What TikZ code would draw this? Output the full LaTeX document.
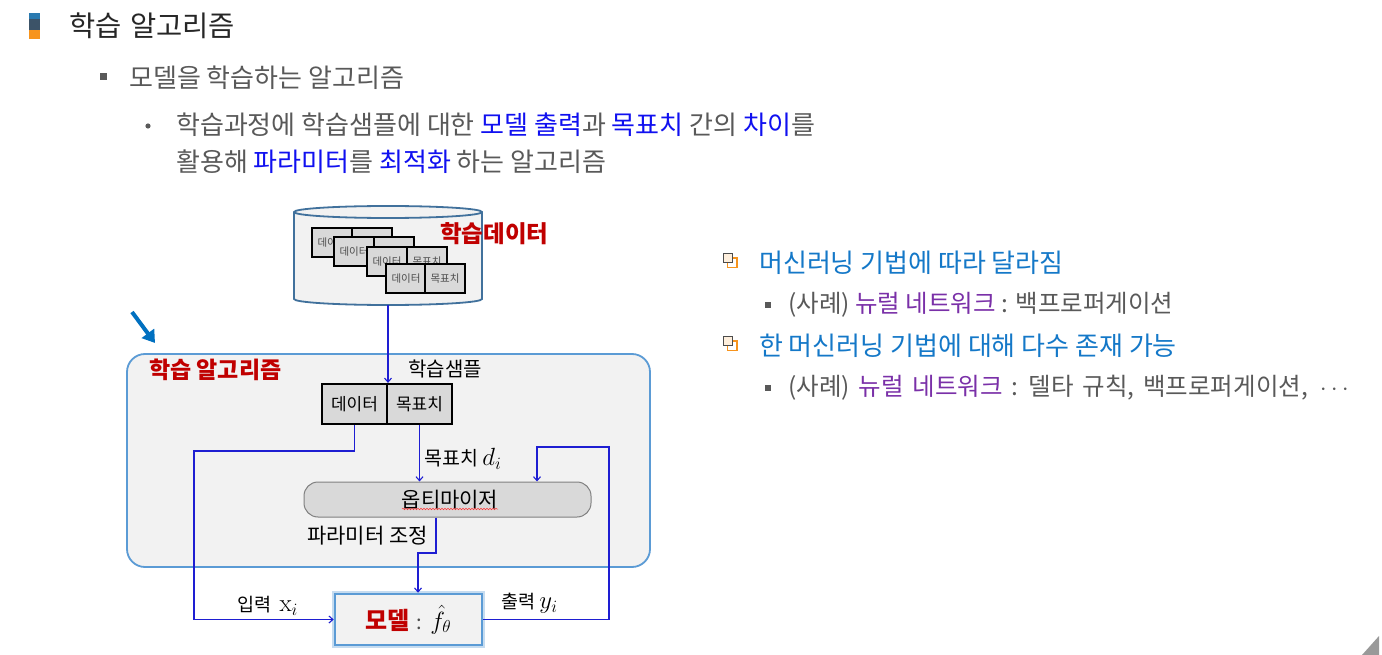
\documentclass[tikz,border=0pt]{standalone}
\usepackage{fontspec}
\setmainfont{Noto Sans CJK KR}
\newfontfamily\widesp[WordSpace=1.6]{Noto Sans CJK KR}
\newfontfamily\lmr{Latin Modern Roman}
\usetikzlibrary{arrows.meta,decorations.pathmorphing}
\definecolor{txtgray}{HTML}{595959}
\definecolor{hlblue}{HTML}{1010F0}
\definecolor{rpblue}{HTML}{1478C8}
\definecolor{purp}{HTML}{7A30A8}
\definecolor{redc}{HTML}{C00000}
\definecolor{conn}{RGB}{30,30,210}
\definecolor{boxb}{HTML}{5B9BD5}
\definecolor{boxf}{HTML}{F2F2F2}
\definecolor{cellf}{HTML}{D9D9D9}
\definecolor{cylb}{HTML}{41719C}
\definecolor{ptr}{HTML}{0070C0}
\definecolor{barA}{HTML}{2A7AB0}
\definecolor{barB}{HTML}{3C5368}
\definecolor{barC}{HTML}{F7941D}
\newcommand\fsz[1]{\fontsize{#1}{#1}\selectfont}
\begin{document}
\begin{tikzpicture}[x=1pt,y=-1pt,
  lbl/.style={anchor=west,inner sep=0pt},
  link/.style={draw=conn,line width=1.1pt,-{Straight Barb[length=4pt,width=7pt]}},
  card/.style={draw=black,line width=1.5pt,fill=cellf,minimum width=40pt,minimum height=29pt,inner sep=0pt,font=\fsz{10.5},text=black!70},
  cell/.style={draw=black,line width=2.2pt,fill=cellf,minimum width=65pt,minimum height=40pt,inner sep=0pt,font=\fsz{17}},
  icon/.style={line width=1.5pt}
]
\useasboundingbox (0,0) rectangle (1382,655);
\fill[white] (0,0) rectangle (1382,655);

% title bar
\fill[barA] (29,13) rectangle (40,19);
\fill[barB] (29,19) rectangle (40,30);
\fill[barC] (29,30) rectangle (40,39);
\node[lbl,font=\fsz{28.5},text=black!85] (title) at (69,26) {학습\hspace{2pt} 알고리즘};

% level 2
\fill[txtgray] (100,73) rectangle (107,80);
\node[lbl,font=\fsz{26},text=txtgray] (l2) at (129,78) {모델을 학습하는 알고리즘};

% level 3
\fill[txtgray] (148,126) circle[radius=2.6pt];
\node[lbl,font=\fsz{26},text=txtgray] (l3a) at (176,125) {학습과정에 학습샘플에 대한 \textcolor{hlblue}{모델 출력}과 \textcolor{hlblue}{목표치} 간의 \textcolor{hlblue}{차이}를};
\node[lbl,font=\fsz{26},text=txtgray] (l3b) at (176,162) {활용해 \textcolor{hlblue}{파라미터}를 \textcolor{hlblue}{최적화} 하는 알고리즘};

% cylinder
\path[draw=cylb,line width=1.8pt,fill=boxf] (294,212) -- (294,299)
  arc[start angle=180,end angle=360,x radius=94pt,y radius=6pt] -- (482,212)
  arc[start angle=0,end angle=180,x radius=94pt,y radius=6pt] -- cycle;
\draw[cylb,line width=1.8pt] (294,212) arc[start angle=180,end angle=360,x radius=94pt,y radius=6pt];
\coordinate (cylbot) at (388,305);

% stacked cards
\node[card] (c1a) at (332,242.5) {데이터};
\node[card] (c1b) at (372,242.5) {목표치};
\node[card] (c2a) at (354,251.5) {데이터};
\node[card] (c2b) at (394,251.5) {목표치};
\node[card] (c3a) at (387,261.5) {데이터};
\node[card] (c3b) at (427,261.5) {목표치};
\node[card] (c4a) at (406,278.5) {데이터};
\node[card] (c4b) at (445,278.5) {목표치};
\node[lbl,font=\fsz{23.5}\bfseries,text=redc] (dlabel) at (440,234) {학습데이터};

% pointer arrow
\draw[ptr,line width=4pt,-{Triangle[length=12pt,width=15pt]}] (132,312) -- (155,343);

% algorithm box
\node[draw=boxb,line width=1.8pt,fill=boxf,rounded corners=18pt,minimum width=523pt,minimum height=213pt,inner sep=0pt] (alg) at (388.5,460.5) {};
\node[lbl,font=\fsz{23}\bfseries,text=redc] (alglabel) at (149,370) {학습 알고리즘};
\node[lbl,font=\fsz{20}] (samplelbl) at (408,369) {학습샘플};

% sample
\node[cell] (sdata) at (354.5,404) {데이터};
\node[cell] (starget) at (419.5,404) {목표치};

% optimizer
\node[draw=black!50,line width=1pt,fill=cellf,rounded corners=14pt,minimum width=287pt,minimum height=35pt,inner sep=0pt,font=\fsz{21}] (opt) at (447.5,499.5) {\hspace{5pt}옵티마이저};
\draw[red!80,line width=0.5pt,decorate,decoration={snake,amplitude=0.8pt,segment length=3pt}] (402,509) -- (498,509);

% model
\node[draw=boxb!35,line width=6pt,minimum width=147pt,minimum height=51pt,inner sep=0pt] (glow) at (408.5,619.5) {};
\node[draw=boxb,line width=2.5pt,fill=boxf,minimum width=147pt,minimum height=51pt,inner sep=0pt] (model) at (408.5,619.5)
  {{\fsz{24}\bfseries\color{redc}모델}\hspace{7pt}{\fsz{20}\color{black!70}:}\hspace{8pt}{\fsz{26}$\hat{f}_{\theta}$}};

% labels
\node[lbl,font=\fsz{19.5}] (tlbl) at (424,459) {목표치 {\fsz{25}$d_i$}};
\node[lbl,font=\fsz{21}] (plbl) at (307,536) {파라미터 조정};
\node[lbl,font=\fsz{18.5}] (inlbl) at (237,606) {입력 \ {\fsz{25}{\lmr x}$_i$}};
\node[lbl,font=\fsz{18.5}] (outlbl) at (501,603) {출력 {\fsz{25}$y_i$}};

% connectors
\coordinate (inL) at (194,451);
\coordinate (pturn) at (436,553);
\coordinate (fb) at (609,447);
\draw[link] (cylbot) -- (cylbot |- sdata.north);
\draw[link] (sdata.south) |- (inL) |- (model.west);
\draw[link] (starget.south) -- (starget.south |- opt.north);
\draw[link] (opt.south -| pturn) -- (pturn) -| ([xshift=9.5pt]model.north);
\draw[link] (model.east) -| (fb) -| ([xshift=89.5pt]opt.north);

% right panel
\draw[icon,barC] (727.5,258) rectangle (737,267.5);
\draw[icon,black!70,fill=barC!15] (723.5,253.5) rectangle (732.5,262.5);
\node[lbl,font=\fsz{26},text=rpblue] (r1) at (759,263) {머신러닝 기법에 따라 달라짐};
\fill[txtgray] (765,302) rectangle (771,308);
\node[lbl,font=\fsz{24.5},text=txtgray] (r1a) at (788,305) {(사례) \textcolor{purp}{뉴럴 네트워크} : 백프로퍼게이션};
\draw[icon,barC] (727.5,341) rectangle (737,350.5);
\draw[icon,black!70,fill=barC!15] (723.5,336.5) rectangle (732.5,345.5);
\node[lbl,font=\fsz{26},text=rpblue] (r2) at (759,346) {한 머신러닝 기법에 대해 다수 존재 가능};
\fill[txtgray] (765,385) rectangle (771,391);
\node[lbl,font=\widesp\fsz{24.5},text=txtgray] (r2a) at (788,388) {(사례) \textcolor{purp}{뉴럴 네트워크} : 델타 규칙, 백프로퍼게이션,\hspace{3pt} $\cdots$};

% corner mark
\fill[black!40] (1362,655) -- (1379,636) -- (1379,655) -- cycle;
\end{tikzpicture}
\end{document}
